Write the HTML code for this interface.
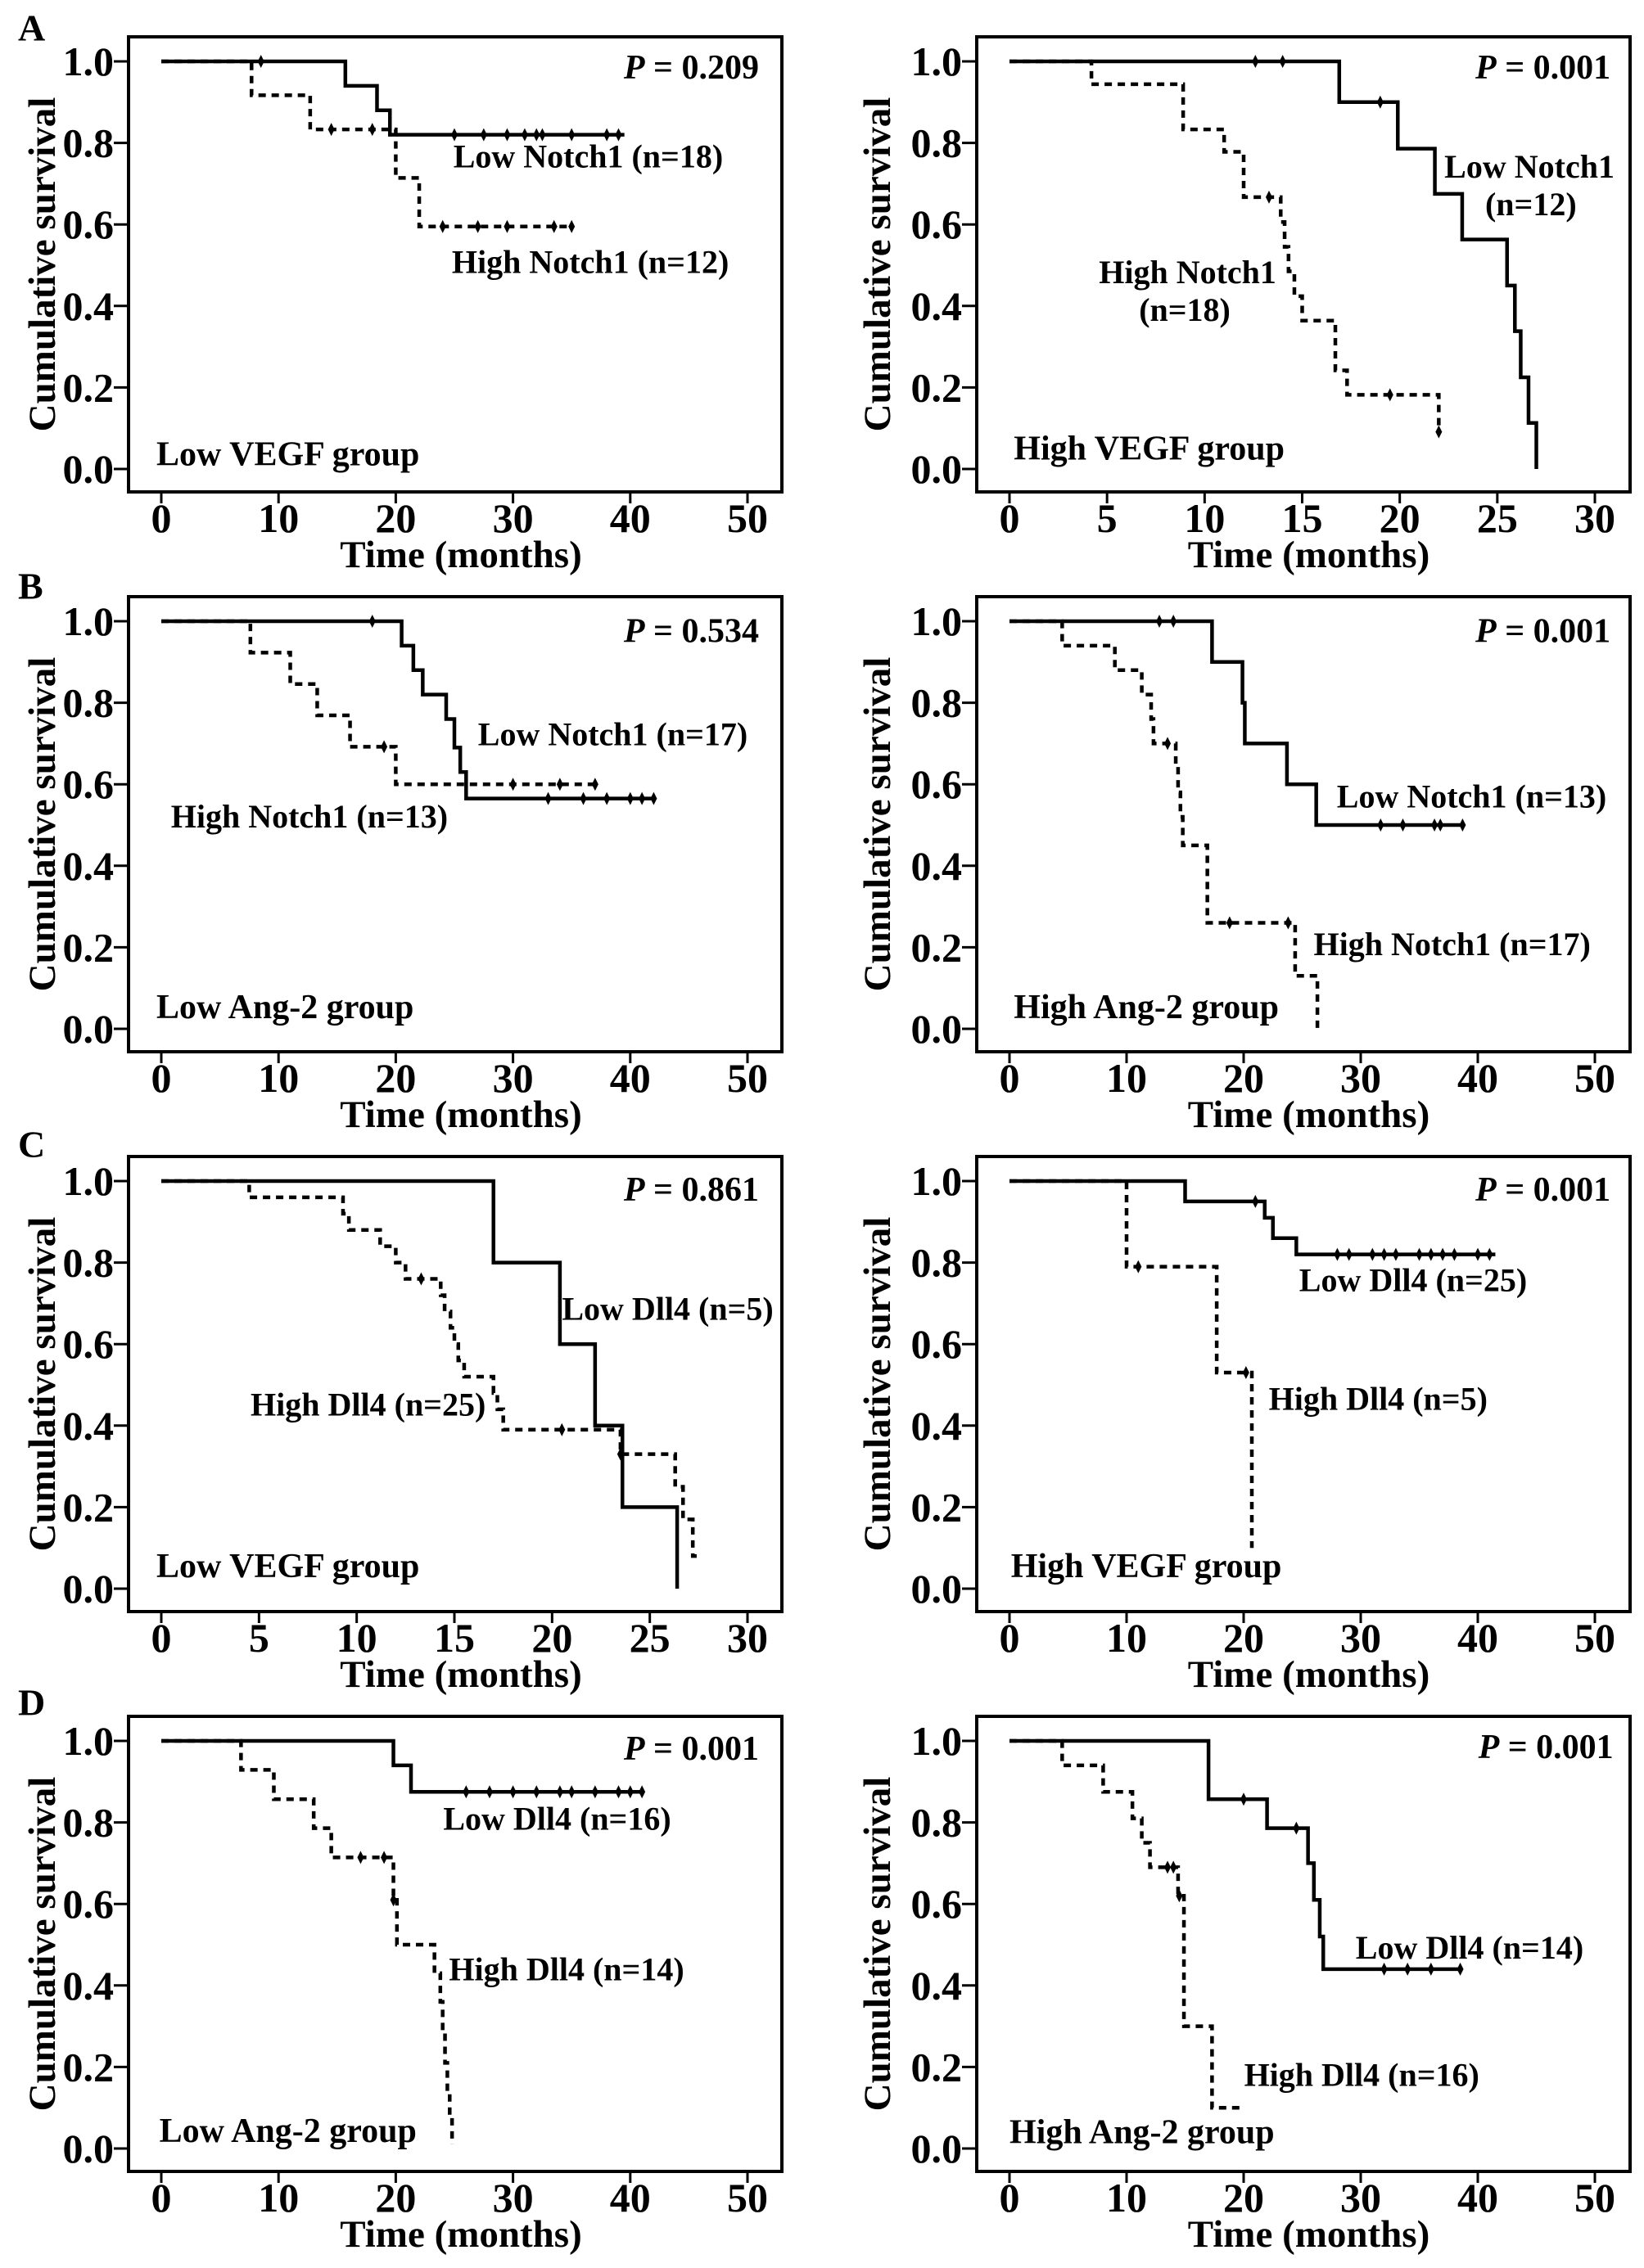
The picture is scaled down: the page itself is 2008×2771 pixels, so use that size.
<!DOCTYPE html>
<html><head><meta charset="utf-8"><style>
html,body{margin:0;padding:0;background:#fff;}
svg{display:block;font-family:"Liberation Serif",serif;font-weight:bold;}
</style></head><body>
<svg id="fig" width="2008" height="2771" viewBox="0 0 2008 2771" xmlns="http://www.w3.org/2000/svg"></svg>
<script>
// ---- data: [time, survival] steps, censor times, x-axis max ----
const aL_low = [[0,1],[15.7,0.94],[18.4,0.88],[19.5,0.82]];
const aL_lowEnd = 39.5;
const aL_lowCens = [8.5,25,27.5,29.5,31,32,32.5,35,38,39];
const aL_high = [[0,1],[7.7,0.917],[12.7,0.833],[20.0,0.714],[22.0,0.595]];
const aL_highEnd = 35;
const aL_highCens = [14.5,18,24,27,29.5,33.5,35];

const aR_low = [[0,1],[16.9,0.9],[19.9,0.786],[21.8,0.675],[23.2,0.563],[25.5,0.45],[25.9,0.338],[26.2,0.225],[26.6,0.113],[27.0,0]];
const aR_lowEnd = 27.0;
const aR_lowCens = [12.6,14,19];
const aR_high = [[0,1],[4.2,0.944],[8.9,0.833],[11,0.778],[12,0.667],[13.9,0.606],[14.1,0.545],[14.3,0.485],[14.6,0.424],[15,0.364],[16.7,0.242],[17.3,0.182],[22,0.091]];
const aR_highEnd = 22;
const aR_highCens = [13.3,19.5,22];

const bL_low = [[0,1],[20.5,0.94],[21.5,0.88],[22.3,0.82],[24.3,0.76],[25,0.69],[25.5,0.63],[26,0.565]];
const bL_lowEnd = 42;
const bL_lowCens = [18,33,36,38,40,41,42];
const bL_high = [[0,1],[7.6,0.923],[11,0.846],[13.3,0.769],[16.1,0.692],[20,0.6]];
const bL_highEnd = 37;
const bL_highCens = [19,30,34,37];

const bR_low = [[0,1],[17.3,0.9],[19.9,0.8],[20.1,0.7],[23.7,0.6],[26.2,0.5]];
const bR_lowEnd = 38.7;
const bR_lowCens = [12.8,14,31.7,33.6,36.3,36.8,38.7];
const bR_high = [[0,1],[4.5,0.94],[9,0.88],[11.3,0.82],[12.1,0.76],[12.3,0.7],[14.2,0.65],[14.4,0.58],[14.6,0.52],[14.8,0.45],[16.9,0.26],[24.4,0.13],[26.3,0]];
const bR_highEnd = 26.3;
const bR_highCens = [13.5,18.8,23.8];

const cL_low = [[0,1],[17,0.8],[20.4,0.6],[22.2,0.4],[23.6,0.2],[26.4,0]];
const cL_lowEnd = 26.4;
const cL_lowCens = [];
const cL_high = [[0,1],[4.5,0.96],[9.3,0.92],[9.6,0.88],[11.2,0.84],[12,0.8],[12.5,0.76],[14.3,0.72],[14.5,0.68],[14.8,0.64],[15,0.6],[15.2,0.56],[15.5,0.52],[17,0.48],[17.2,0.44],[17.5,0.39],[23.5,0.33],[26.3,0.25],[26.7,0.17],[27.2,0.08]];
const cL_highEnd = 27.4;
const cL_highCens = [13.3,20.5,23.5];

const cR_low = [[0,1],[15,0.95],[21.8,0.91],[22.5,0.86],[24.5,0.82]];
const cR_lowEnd = 41.5;
const cR_lowCens = [21,28,29,31,32,33,35,36,37,38,40,41];
const cR_high = [[0,1],[10,0.79],[17.7,0.53],[20.7,0.1]];
const cR_highEnd = 20.7;
const cR_highCens = [11,20.2];

const dL_low = [[0,1],[19.8,0.94],[21.3,0.875]];
const dL_lowEnd = 41;
const dL_lowCens = [26,28,30,32,34,35,37,39,40,41];
const dL_high = [[0,1],[6.8,0.929],[9.6,0.857],[13,0.786],[14.5,0.714],[19.8,0.61],[20.1,0.5],[23.3,0.43],[23.8,0.36],[24,0.29],[24.2,0.21],[24.4,0.14],[24.6,0.07],[24.8,0.01]];
const dL_highEnd = 24.8;
const dL_highCens = [17,19,19.8];

const dR_low = [[0,1],[17,0.857],[22,0.786],[25.5,0.7],[26,0.61],[26.5,0.52],[26.8,0.44]];
const dR_lowEnd = 38.5;
const dR_lowCens = [20,24.5,32,34,36,38.5];
const dR_high = [[0,1],[4.5,0.94],[8,0.875],[10.5,0.81],[11.3,0.75],[12,0.69],[14.4,0.62],[14.9,0.3],[17.3,0.1]];
const dR_highEnd = 20;
const dR_highCens = [13.5,14,14.5];

const yTicks = ["0.0","0.2","0.4","0.6","0.8","1.0"];
const xTicks50 = [0,10,20,30,40,50];
const xTicks30 = [0,5,10,15,20,25,30];

const NS = "http://www.w3.org/2000/svg";
const svg = document.getElementById("fig");
function mk(tag, attrs, parent){
  const e = document.createElementNS(NS, tag);
  for (const k in attrs) e.setAttribute(k, attrs[k]);
  (parent||svg).appendChild(e);
  return e;
}
function txt(s, x, y, size, anchor, parent){
  const t = mk("text", {x:x, y:y, "font-size":size, "text-anchor":anchor||"start", "dominant-baseline":"central", fill:"#000"}, parent);
  t.textContent = s;
  return t;
}

function panel(cfg){
  const g = mk("g", {});
  
  
  const row = cfg.row, off = 684*row;
  const right = cfg.col === 1;
  const fL = right?1193:157, fR = right?1991:955;
  const fT = 45+off, fB = 601+off;
  const y1 = 75+off, y0 = 573+off;
  const x0 = right?1233:197, xM = right?1948:913;
  const xmax = cfg.xticks[cfg.xticks.length-1];
  const X = v => x0 + (xM-x0)*v/xmax;
  const Y = v => y0 + (y1-y0)*v;
  const fr = mk("rect", {x:fL, y:fT, width:fR-fL, height:fB-fT, fill:"none", stroke:"#000", "stroke-width":4}, g);
  
  
  yTicks.forEach(l => {
    const v = parseFloat(l);
    mk("line", {x1:fL-18, x2:fL, y1:Y(v), y2:Y(v), stroke:"#000", "stroke-width":3}, g);
    const t = txt(l, fL-18, Y(v), 50, "end", g);
    
    
  });
  cfg.xticks.forEach(v => {
    mk("line", {x1:X(v), x2:X(v), y1:fB, y2:fB+14, stroke:"#000", "stroke-width":3}, g);
    const t = txt(String(v), X(v), 633+off, 50, "middle", g);
    
    
  });
  const xt = txt("Time (months)", (x0+xM)/2+8, 678+off, 47, "middle", g);
  
  
  const ycx = right?1072:52, ycy = (fT+fB)/2;
  const yt = txt("Cumulative survival", ycx, ycy, 47, "middle", g);
  yt.setAttribute("transform", "rotate(-90 "+ycx+" "+ycy+")");
  
  
  [[cfg.low, cfg.lowEnd, cfg.lowCens, false, 'low-curve'],[cfg.high, cfg.highEnd, cfg.highCens, true, 'high-curve']].forEach(s => {
    const pts = s[0];
    let d = "M"+X(pts[0][0])+" "+Y(pts[0][1]);
    for (let i=1;i<pts.length;i++){
      d += " H"+X(pts[i][0])+" V"+Y(pts[i][1]);
    }
    d += " H"+X(s[1]);
    const p = mk("path", {d:d, fill:"none", stroke:"#000", "stroke-width":4.5, "stroke-dasharray":s[3]?"9 7":"none"}, g);
    
    
    s[2].forEach(t => {
      let v = pts[0][1];
      for (const q of pts) if (q[0] <= t) v = q[1];
      const c = mk("path", {d:"M"+X(t)+" "+(Y(v)-8)+" l4 8 l-4 8 l-4 -8 z", fill:"#000"}, g);
      
      
    });
  });
  cfg.labels.forEach(l => {
    const t = mk("text", {x:l[1]*1.769, y:l[2]*1.769, "font-size":l[4]||40, "text-anchor":l[3]||"start", "dominant-baseline":"central", fill:"#000"}, g);
    if (l[0].startsWith("P")) {
      const ts = mk("tspan", {"font-style":"italic"}, t); ts.textContent = "P";
      const ts2 = mk("tspan", {}, t); ts2.textContent = l[0].slice(1);
    } else t.textContent = l[0];
    
    
  });
}

panel({name:"panel-a-low-vegf", row:0, col:0, xticks:xTicks50, low:aL_low, lowEnd:aL_lowEnd, lowCens:aL_lowCens, high:aL_high, highEnd:aL_highEnd, highCens:aL_highCens,
 labels:[["P = 0.209",524,47,"end",42,"p-value"],["Low Notch1 (n=18)",313,108],["High Notch1 (n=12)",312,181],["Low VEGF group",108,314,"start",42,"group-label"]]});
panel({name:"panel-a-high-vegf", row:0, col:1, xticks:xTicks30, low:aR_low, lowEnd:aR_lowEnd, lowCens:aR_lowCens, high:aR_high, highEnd:aR_highEnd, highCens:aR_highCens,
 labels:[["P = 0.001",1112,47,"end",42,"p-value"],["Low Notch1",1056,115,"middle"],["(n=12)",1057,141,"middle"],["High Notch1",820,188,"middle"],["(n=18)",818,214,"middle"],["High VEGF group",700,310,"start",42,"group-label"]]});
panel({name:"panel-b-low-ang2", row:1, col:0, xticks:xTicks50, low:bL_low, lowEnd:bL_lowEnd, lowCens:bL_lowCens, high:bL_high, highEnd:bL_highEnd, highCens:bL_highCens,
 labels:[["P = 0.534",524,436,"end",42,"p-value"],["Low Notch1 (n=17)",330,507],["High Notch1 (n=13)",118,564],["Low Ang-2 group",108,696,"start",42,"group-label"]]});
panel({name:"panel-b-high-ang2", row:1, col:1, xticks:xTicks50, low:bR_low, lowEnd:bR_lowEnd, lowCens:bR_lowCens, high:bR_high, highEnd:bR_highEnd, highCens:bR_highCens,
 labels:[["P = 0.001",1112,436,"end",42,"p-value"],["Low Notch1 (n=13)",923,550],["High Notch1 (n=17)",907,652],["High Ang-2 group",700,696,"start",42,"group-label"]]});
panel({name:"panel-c-low-vegf", row:2, col:0, xticks:xTicks30, low:cL_low, lowEnd:cL_lowEnd, lowCens:cL_lowCens, high:cL_high, highEnd:cL_highEnd, highCens:cL_highCens,
 labels:[["P = 0.861",524,822,"end",42,"p-value"],["Low Dll4 (n=5)",388,904],["High Dll4 (n=25)",173,970],["Low VEGF group",108,1082,"start",42,"group-label"]]});
panel({name:"panel-c-high-vegf", row:2, col:1, xticks:xTicks50, low:cR_low, lowEnd:cR_lowEnd, lowCens:cR_lowCens, high:cR_high, highEnd:cR_highEnd, highCens:cR_highCens,
 labels:[["P = 0.001",1112,822,"end",42,"p-value"],["Low Dll4 (n=25)",897,884],["High Dll4 (n=5)",876,966],["High VEGF group",698,1082,"start",42,"group-label"]]});
panel({name:"panel-d-low-ang2", row:3, col:0, xticks:xTicks50, low:dL_low, lowEnd:dL_lowEnd, lowCens:dL_lowCens, high:dL_high, highEnd:dL_highEnd, highCens:dL_highCens,
 labels:[["P = 0.001",524,1208,"end",42,"p-value"],["Low Dll4 (n=16)",306,1256],["High Dll4 (n=14)",310,1360],["Low Ang-2 group",110,1472,"start",42,"group-label"]]});
panel({name:"panel-d-high-ang2", row:3, col:1, xticks:xTicks50, low:dR_low, lowEnd:dR_lowEnd, lowCens:dR_lowCens, high:dR_high, highEnd:dR_highEnd, highCens:dR_highCens,
 labels:[["P = 0.001",1114,1207,"end",42,"p-value"],["Low Dll4 (n=14)",936,1345],["High Dll4 (n=16)",859,1433],["High Ang-2 group",697,1473,"start",42,"group-label"]]});

[["A",34],["B",716],["C",1398],["D",2080]].forEach(l => {
  const t = txt(l[0], 22, l[1], 46, "start");
  
  
});
</script>
</body></html>
